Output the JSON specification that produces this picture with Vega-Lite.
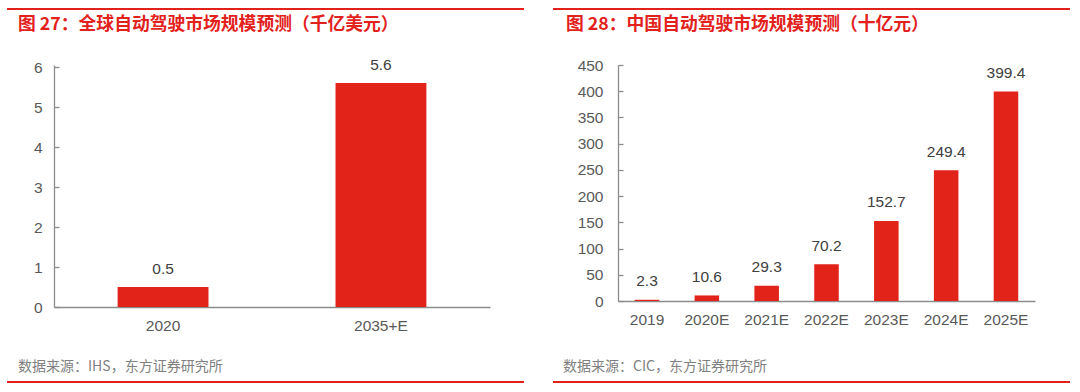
{
  "$schema": "https://vega.github.io/schema/vega-lite/v6.json",
  "padding": {"left": 7, "top": 8, "right": 5, "bottom": 5},
  "background": "white",
  "config": {"view": {"stroke": null}, "font": "Liberation Sans"},
  "datasets": {"e": [{}]},
  "bounds": "flush",
  "align": "each",
  "spacing": 0,
  "columns": 7,
  "concat": [
    {"width": 47, "height": 2, "view": {"fill": "#e3211c", "stroke": null}, "data": {"name": "e"}, "mark": {"type": "point", "size": 0, "opacity": 0, "strokeWidth": 0}, "encoding": {},
     "title": {"text": "图 27：全球自动驾驶市场规模预测（千亿美元）", "orient": "bottom", "anchor": "start", "dx": 11, "offset": 6, "font": "Noto Sans CJK SC", "fontSize": 17.8, "fontWeight": "bold", "color": "#e3211c"}},
    {"width": 436, "height": 2, "view": {"fill": "#e3211c", "stroke": null}, "data": {"name": "e"}, "mark": {"type": "point", "size": 0, "opacity": 0, "strokeWidth": 0}, "encoding": {}},
    {"width": 34, "height": 2, "view": {"fill": "#e3211c", "stroke": null}, "data": {"name": "e"}, "mark": {"type": "point", "size": 0, "opacity": 0, "strokeWidth": 0}, "encoding": {}},
    {"width": 29, "height": 2, "data": {"name": "e"}, "mark": {"type": "point", "size": 0, "opacity": 0, "strokeWidth": 0}, "encoding": {}},
    {"width": 65, "height": 2, "view": {"fill": "#e3211c", "stroke": null}, "data": {"name": "e"}, "mark": {"type": "point", "size": 0, "opacity": 0, "strokeWidth": 0}, "encoding": {},
     "title": {"text": "图 28：中国自动驾驶市场规模预测（十亿元）", "orient": "bottom", "anchor": "start", "dx": 13, "offset": 6, "font": "Noto Sans CJK SC", "fontSize": 17.8, "fontWeight": "bold", "color": "#e3211c"}},
    {"width": 417, "height": 2, "view": {"fill": "#e3211c", "stroke": null}, "data": {"name": "e"}, "mark": {"type": "point", "size": 0, "opacity": 0, "strokeWidth": 0}, "encoding": {}},
    {"width": 35, "height": 2, "view": {"fill": "#e3211c", "stroke": null}, "data": {"name": "e"}, "mark": {"type": "point", "size": 0, "opacity": 0, "strokeWidth": 0}, "encoding": {}},

    {"width": 1, "height": 55, "data": {"name": "e"}, "mark": {"type": "point", "size": 0, "opacity": 0, "strokeWidth": 0}, "encoding": {}},
    {"width": 1, "height": 55, "data": {"name": "e"}, "mark": {"type": "point", "size": 0, "opacity": 0, "strokeWidth": 0}, "encoding": {}},
    {"width": 1, "height": 55, "data": {"name": "e"}, "mark": {"type": "point", "size": 0, "opacity": 0, "strokeWidth": 0}, "encoding": {}},
    {"width": 1, "height": 55, "data": {"name": "e"}, "mark": {"type": "point", "size": 0, "opacity": 0, "strokeWidth": 0}, "encoding": {}},
    {"width": 1, "height": 55, "data": {"name": "e"}, "mark": {"type": "point", "size": 0, "opacity": 0, "strokeWidth": 0}, "encoding": {}},
    {"width": 1, "height": 55, "data": {"name": "e"}, "mark": {"type": "point", "size": 0, "opacity": 0, "strokeWidth": 0}, "encoding": {}},
    {"width": 1, "height": 55, "data": {"name": "e"}, "mark": {"type": "point", "size": 0, "opacity": 0, "strokeWidth": 0}, "encoding": {}},

    {"width": 1, "height": 242, "data": {"name": "e"}, "mark": {"type": "point", "size": 0, "opacity": 0, "strokeWidth": 0}, "encoding": {}},
    {
      "width": 436, "height": 242,
      "data": {"values": [{"year": "2020", "value": 0.5}, {"year": "2035+E", "value": 5.6}]},
      "encoding": {
        "x": {"field": "year", "type": "nominal", "sort": null, "scale": {"paddingInner": 0.583, "paddingOuter": 0.292},
          "axis": {"title": null, "labelAngle": 0, "ticks": false, "domainColor": "#8c8c8c", "domainWidth": 1.3, "labelPadding": 11, "labelColor": "#595959", "labelFontSize": 15.5}},
        "y": {"field": "value", "type": "quantitative", "scale": {"domain": [0, 6.05], "nice": false},
          "axis": {"title": null, "values": [0, 1, 2, 3, 4, 5, 6], "grid": false, "domainColor": "#8c8c8c", "domainWidth": 1.3, "tickColor": "#8c8c8c", "tickWidth": 1.3, "tickSize": -5, "labelPadding": 17, "labelColor": "#595959", "labelFontSize": 15.5}}
      },
      "layer": [
        {"mark": {"type": "bar", "color": "#e2231a"}},
        {"mark": {"type": "text", "dy": -13.5, "baseline": "alphabetic", "fontSize": 15.5, "color": "#404040"}, "encoding": {"text": {"field": "value", "type": "quantitative", "format": ".1f"}}}
      ]
    },
    {"width": 1, "height": 242, "data": {"name": "e"}, "mark": {"type": "point", "size": 0, "opacity": 0, "strokeWidth": 0}, "encoding": {}},
    {"width": 1, "height": 242, "data": {"name": "e"}, "mark": {"type": "point", "size": 0, "opacity": 0, "strokeWidth": 0}, "encoding": {}},
    {"width": 1, "height": 242, "data": {"name": "e"}, "mark": {"type": "point", "size": 0, "opacity": 0, "strokeWidth": 0}, "encoding": {}},
    {
      "width": 417, "height": 236,
      "data": {"values": [
        {"year": "2019", "value": 2.3},
        {"year": "2020E", "value": 10.6},
        {"year": "2021E", "value": 29.3},
        {"year": "2022E", "value": 70.2},
        {"year": "2023E", "value": 152.7},
        {"year": "2024E", "value": 249.4},
        {"year": "2025E", "value": 399.4}
      ]},
      "encoding": {
        "x": {"field": "year", "type": "nominal", "sort": null, "scale": {"paddingInner": 0.59, "paddingOuter": 0.28},
          "axis": {"title": null, "labelAngle": 0, "ticks": false, "domainColor": "#8c8c8c", "domainWidth": 1.3, "labelPadding": 11, "labelColor": "#595959", "labelFontSize": 15.5}},
        "y": {"field": "value", "type": "quantitative", "scale": {"domain": [0, 450], "nice": false},
          "axis": {"title": null, "values": [0, 50, 100, 150, 200, 250, 300, 350, 400, 450], "grid": false, "domainColor": "#8c8c8c", "domainWidth": 1.3, "tickColor": "#8c8c8c", "tickWidth": 1.3, "tickSize": -5, "labelPadding": 20, "labelColor": "#595959", "labelFontSize": 15.5}}
      },
      "layer": [
        {"mark": {"type": "bar", "color": "#e2231a"}},
        {"mark": {"type": "text", "dy": -13.5, "baseline": "alphabetic", "fontSize": 15.5, "color": "#404040"}, "encoding": {"text": {"field": "value", "type": "quantitative", "format": ".1f"}}}
      ]
    },
    {"width": 1, "height": 242, "data": {"name": "e"}, "mark": {"type": "point", "size": 0, "opacity": 0, "strokeWidth": 0}, "encoding": {}},

    {"width": 1, "height": 74, "data": {"name": "e"}, "mark": {"type": "point", "size": 0, "opacity": 0, "strokeWidth": 0}, "encoding": {}},
    {"width": 1, "height": 74, "data": {"name": "e"}, "mark": {"type": "point", "size": 0, "opacity": 0, "strokeWidth": 0}, "encoding": {}},
    {"width": 1, "height": 74, "data": {"name": "e"}, "mark": {"type": "point", "size": 0, "opacity": 0, "strokeWidth": 0}, "encoding": {}},
    {"width": 1, "height": 74, "data": {"name": "e"}, "mark": {"type": "point", "size": 0, "opacity": 0, "strokeWidth": 0}, "encoding": {}},
    {"width": 1, "height": 74, "data": {"name": "e"}, "mark": {"type": "point", "size": 0, "opacity": 0, "strokeWidth": 0}, "encoding": {}},
    {"width": 1, "height": 74, "data": {"name": "e"}, "mark": {"type": "point", "size": 0, "opacity": 0, "strokeWidth": 0}, "encoding": {}},
    {"width": 1, "height": 74, "data": {"name": "e"}, "mark": {"type": "point", "size": 0, "opacity": 0, "strokeWidth": 0}, "encoding": {}},

    {"width": 47, "height": 2, "view": {"fill": "#e3211c", "stroke": null}, "data": {"name": "e"}, "mark": {"type": "point", "size": 0, "opacity": 0, "strokeWidth": 0}, "encoding": {},
     "title": {"text": "数据来源：IHS，东方证券研究所", "orient": "top", "anchor": "start", "dx": 11, "offset": 7, "font": "Noto Sans CJK SC", "fontSize": 14, "fontWeight": "normal", "color": "#808080"}},
    {"width": 436, "height": 2, "view": {"fill": "#e3211c", "stroke": null}, "data": {"name": "e"}, "mark": {"type": "point", "size": 0, "opacity": 0, "strokeWidth": 0}, "encoding": {}},
    {"width": 34, "height": 2, "view": {"fill": "#e3211c", "stroke": null}, "data": {"name": "e"}, "mark": {"type": "point", "size": 0, "opacity": 0, "strokeWidth": 0}, "encoding": {}},
    {"width": 29, "height": 2, "data": {"name": "e"}, "mark": {"type": "point", "size": 0, "opacity": 0, "strokeWidth": 0}, "encoding": {}},
    {"width": 65, "height": 2, "view": {"fill": "#e3211c", "stroke": null}, "data": {"name": "e"}, "mark": {"type": "point", "size": 0, "opacity": 0, "strokeWidth": 0}, "encoding": {},
     "title": {"text": "数据来源：CIC，东方证券研究所", "orient": "top", "anchor": "start", "dx": 10, "offset": 7, "font": "Noto Sans CJK SC", "fontSize": 14, "fontWeight": "normal", "color": "#808080"}},
    {"width": 417, "height": 2, "view": {"fill": "#e3211c", "stroke": null}, "data": {"name": "e"}, "mark": {"type": "point", "size": 0, "opacity": 0, "strokeWidth": 0}, "encoding": {}},
    {"width": 35, "height": 2, "view": {"fill": "#e3211c", "stroke": null}, "data": {"name": "e"}, "mark": {"type": "point", "size": 0, "opacity": 0, "strokeWidth": 0}, "encoding": {}}
  ]
}
